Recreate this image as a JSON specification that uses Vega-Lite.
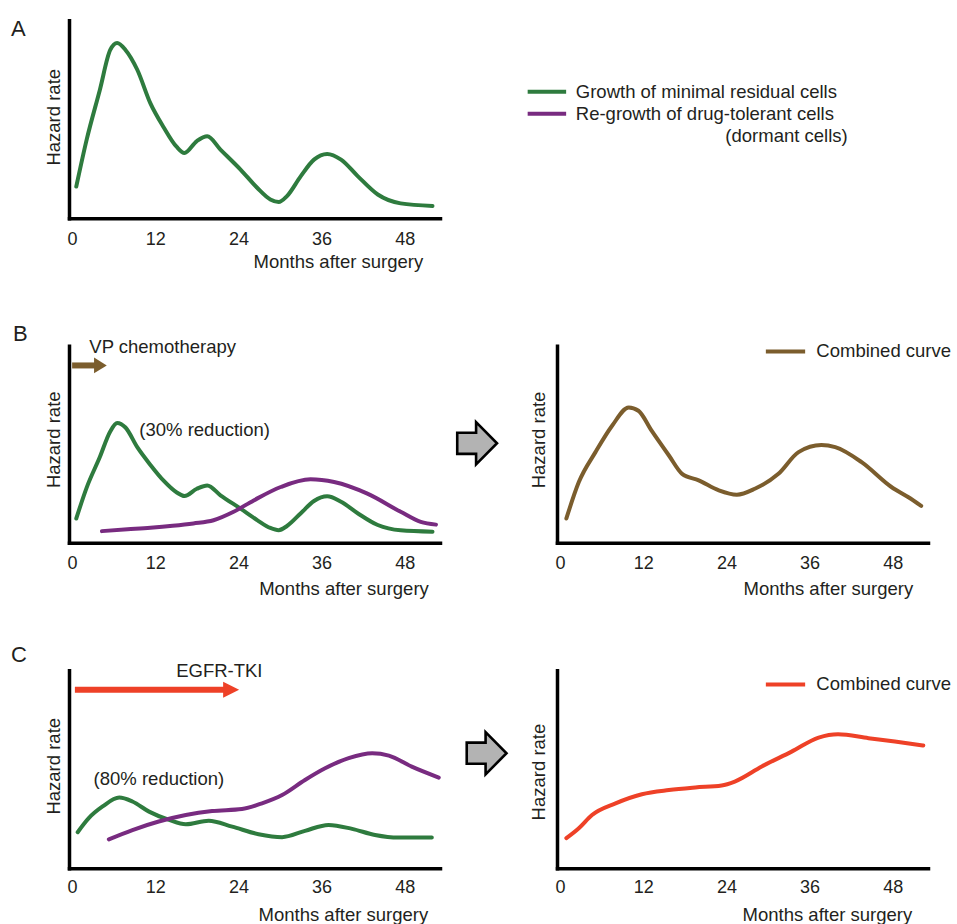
{
  "$schema": "https://vega.github.io/schema/vega-lite/v6.json",
  "background": "white",
  "padding": {"left": 10, "top": 18.25, "right": 2, "bottom": 0},
  "columns": 2,
  "spacing": {"row": 127.5, "column": 117},
  "bounds": "flush",
  "resolve": {"scale": {"color": "independent"}, "legend": {"color": "independent"}},
  "config": {
    "view": {"stroke": null},
    "font": "Liberation Sans",
    "axis": {"domainColor": "#000000", "domainWidth": 3.5, "domainCap": "square", "ticks": false, "grid": false, "labelFont": "Liberation Sans", "labelFontSize": 18, "labelColor": "#231f20", "titleFont": "Liberation Sans", "titleFontSize": 18.5, "titleFontWeight": "normal", "titleColor": "#231f20", "labelFlush": false, "labelOverlap": false},
    "legend": {"labelFont": "Liberation Sans", "labelFontSize": 18.5, "labelColor": "#231f20", "symbolType": "M-2,0L2,0", "symbolStrokeWidth": 4, "padding": 0, "labelLimit": 0},
    "text": {"font": "Liberation Sans", "fontSize": 18.5, "color": "#231f20"}
  },
  "datasets": {
    "curves": [
      {"panel": "A", "series": "Growth of minimal residual cells", "month": 0.6, "hazard": 16},
      {"panel": "A", "series": "Growth of minimal residual cells", "month": 2.1, "hazard": 39.7},
      {"panel": "A", "series": "Growth of minimal residual cells", "month": 4.0, "hazard": 64.8},
      {"panel": "A", "series": "Growth of minimal residual cells", "month": 5.5, "hazard": 85},
      {"panel": "A", "series": "Growth of minimal residual cells", "month": 6.5, "hazard": 88.5},
      {"panel": "A", "series": "Growth of minimal residual cells", "month": 7.7, "hazard": 85},
      {"panel": "A", "series": "Growth of minimal residual cells", "month": 9.4, "hazard": 75},
      {"panel": "A", "series": "Growth of minimal residual cells", "month": 11.3, "hazard": 58},
      {"panel": "A", "series": "Growth of minimal residual cells", "month": 13.2, "hazard": 46},
      {"panel": "A", "series": "Growth of minimal residual cells", "month": 15.1, "hazard": 36},
      {"panel": "A", "series": "Growth of minimal residual cells", "month": 16.2, "hazard": 33},
      {"panel": "A", "series": "Growth of minimal residual cells", "month": 18.0, "hazard": 39},
      {"panel": "A", "series": "Growth of minimal residual cells", "month": 19.5, "hazard": 41.4},
      {"panel": "A", "series": "Growth of minimal residual cells", "month": 21.4, "hazard": 34.7},
      {"panel": "A", "series": "Growth of minimal residual cells", "month": 24.3, "hazard": 24.6},
      {"panel": "A", "series": "Growth of minimal residual cells", "month": 26.7, "hazard": 15.4},
      {"panel": "A", "series": "Growth of minimal residual cells", "month": 28.6, "hazard": 9.5},
      {"panel": "A", "series": "Growth of minimal residual cells", "month": 29.8, "hazard": 8.2},
      {"panel": "A", "series": "Growth of minimal residual cells", "month": 31.0, "hazard": 11.2},
      {"panel": "A", "series": "Growth of minimal residual cells", "month": 33.0, "hazard": 21.3},
      {"panel": "A", "series": "Growth of minimal residual cells", "month": 34.9, "hazard": 29.6},
      {"panel": "A", "series": "Growth of minimal residual cells", "month": 36.8, "hazard": 32.5},
      {"panel": "A", "series": "Growth of minimal residual cells", "month": 38.8, "hazard": 29.6},
      {"panel": "A", "series": "Growth of minimal residual cells", "month": 41.2, "hazard": 21.3},
      {"panel": "A", "series": "Growth of minimal residual cells", "month": 44.1, "hazard": 12},
      {"panel": "A", "series": "Growth of minimal residual cells", "month": 47.4, "hazard": 7.5},
      {"panel": "A", "series": "Growth of minimal residual cells", "month": 52.0, "hazard": 6.2},

      {"panel": "B", "series": "Growth of minimal residual cells", "month": 0.6, "hazard": 12.3},
      {"panel": "B", "series": "Growth of minimal residual cells", "month": 2.1, "hazard": 28},
      {"panel": "B", "series": "Growth of minimal residual cells", "month": 4.0, "hazard": 43.5},
      {"panel": "B", "series": "Growth of minimal residual cells", "month": 5.5, "hazard": 56.5},
      {"panel": "B", "series": "Growth of minimal residual cells", "month": 6.5, "hazard": 60.8},
      {"panel": "B", "series": "Growth of minimal residual cells", "month": 7.7, "hazard": 58.5},
      {"panel": "B", "series": "Growth of minimal residual cells", "month": 9.4, "hazard": 48.5},
      {"panel": "B", "series": "Growth of minimal residual cells", "month": 11.3, "hazard": 39.5},
      {"panel": "B", "series": "Growth of minimal residual cells", "month": 13.2, "hazard": 31.5},
      {"panel": "B", "series": "Growth of minimal residual cells", "month": 15.1, "hazard": 25.5},
      {"panel": "B", "series": "Growth of minimal residual cells", "month": 16.2, "hazard": 23.7},
      {"panel": "B", "series": "Growth of minimal residual cells", "month": 18.0, "hazard": 27.4},
      {"panel": "B", "series": "Growth of minimal residual cells", "month": 19.5, "hazard": 29.1},
      {"panel": "B", "series": "Growth of minimal residual cells", "month": 21.4, "hazard": 24.1},
      {"panel": "B", "series": "Growth of minimal residual cells", "month": 24.3, "hazard": 17.3},
      {"panel": "B", "series": "Growth of minimal residual cells", "month": 26.7, "hazard": 11.5},
      {"panel": "B", "series": "Growth of minimal residual cells", "month": 28.6, "hazard": 7.5},
      {"panel": "B", "series": "Growth of minimal residual cells", "month": 29.8, "hazard": 6.4},
      {"panel": "B", "series": "Growth of minimal residual cells", "month": 31.0, "hazard": 8.5},
      {"panel": "B", "series": "Growth of minimal residual cells", "month": 33.0, "hazard": 15},
      {"panel": "B", "series": "Growth of minimal residual cells", "month": 34.9, "hazard": 21.2},
      {"panel": "B", "series": "Growth of minimal residual cells", "month": 36.8, "hazard": 23.6},
      {"panel": "B", "series": "Growth of minimal residual cells", "month": 38.8, "hazard": 20.8},
      {"panel": "B", "series": "Growth of minimal residual cells", "month": 41.2, "hazard": 15},
      {"panel": "B", "series": "Growth of minimal residual cells", "month": 44.1, "hazard": 9},
      {"panel": "B", "series": "Growth of minimal residual cells", "month": 47.4, "hazard": 6.3},
      {"panel": "B", "series": "Growth of minimal residual cells", "month": 52.0, "hazard": 5.6},
      {"panel": "B", "series": "Re-growth of drug-tolerant cells", "month": 4.3, "hazard": 5.9},
      {"panel": "B", "series": "Re-growth of drug-tolerant cells", "month": 8.0, "hazard": 6.8},
      {"panel": "B", "series": "Re-growth of drug-tolerant cells", "month": 11.3, "hazard": 7.6},
      {"panel": "B", "series": "Re-growth of drug-tolerant cells", "month": 14.5, "hazard": 8.6},
      {"panel": "B", "series": "Re-growth of drug-tolerant cells", "month": 17.5, "hazard": 9.8},
      {"panel": "B", "series": "Re-growth of drug-tolerant cells", "month": 20.4, "hazard": 11.4},
      {"panel": "B", "series": "Re-growth of drug-tolerant cells", "month": 23.3, "hazard": 15.7},
      {"panel": "B", "series": "Re-growth of drug-tolerant cells", "month": 26.2, "hazard": 21.5},
      {"panel": "B", "series": "Re-growth of drug-tolerant cells", "month": 30.1, "hazard": 28.3},
      {"panel": "B", "series": "Re-growth of drug-tolerant cells", "month": 34.4, "hazard": 32.2},
      {"panel": "B", "series": "Re-growth of drug-tolerant cells", "month": 37.8, "hazard": 30.8},
      {"panel": "B", "series": "Re-growth of drug-tolerant cells", "month": 42.6, "hazard": 24.9},
      {"panel": "B", "series": "Re-growth of drug-tolerant cells", "month": 47.4, "hazard": 15.7},
      {"panel": "B", "series": "Re-growth of drug-tolerant cells", "month": 50.3, "hazard": 10.6},
      {"panel": "B", "series": "Re-growth of drug-tolerant cells", "month": 52.5, "hazard": 9.2},

      {"panel": "B combined", "series": "Combined curve", "month": 0.9, "hazard": 12.3},
      {"panel": "B combined", "series": "Combined curve", "month": 2.7, "hazard": 30.8},
      {"panel": "B combined", "series": "Combined curve", "month": 5.1, "hazard": 46},
      {"panel": "B combined", "series": "Combined curve", "month": 7.5, "hazard": 59.4},
      {"panel": "B combined", "series": "Combined curve", "month": 9.9, "hazard": 68.7},
      {"panel": "B combined", "series": "Combined curve", "month": 11.3, "hazard": 67},
      {"panel": "B combined", "series": "Combined curve", "month": 13.2, "hazard": 56.9},
      {"panel": "B combined", "series": "Combined curve", "month": 15.7, "hazard": 44.3},
      {"panel": "B combined", "series": "Combined curve", "month": 17.6, "hazard": 35},
      {"panel": "B combined", "series": "Combined curve", "month": 20.0, "hazard": 31.7},
      {"panel": "B combined", "series": "Combined curve", "month": 22.9, "hazard": 26.6},
      {"panel": "B combined", "series": "Combined curve", "month": 25.5, "hazard": 24.4},
      {"panel": "B combined", "series": "Combined curve", "month": 28.1, "hazard": 27.4},
      {"panel": "B combined", "series": "Combined curve", "month": 31.5, "hazard": 35},
      {"panel": "B combined", "series": "Combined curve", "month": 34.4, "hazard": 46},
      {"panel": "B combined", "series": "Combined curve", "month": 37.7, "hazard": 49.6},
      {"panel": "B combined", "series": "Combined curve", "month": 39.7, "hazard": 48.5},
      {"panel": "B combined", "series": "Combined curve", "month": 43.5, "hazard": 40.9},
      {"panel": "B combined", "series": "Combined curve", "month": 47.8, "hazard": 28.3},
      {"panel": "B combined", "series": "Combined curve", "month": 50.2, "hazard": 23.2},
      {"panel": "B combined", "series": "Combined curve", "month": 52.1, "hazard": 18.7},

      {"panel": "C", "series": "Growth of minimal residual cells", "month": 0.8, "hazard": 18.2},
      {"panel": "C", "series": "Growth of minimal residual cells", "month": 2.4, "hazard": 25.3},
      {"panel": "C", "series": "Growth of minimal residual cells", "month": 4.4, "hazard": 31.2},
      {"panel": "C", "series": "Growth of minimal residual cells", "month": 6.8, "hazard": 35.7},
      {"panel": "C", "series": "Growth of minimal residual cells", "month": 8.7, "hazard": 33.7},
      {"panel": "C", "series": "Growth of minimal residual cells", "month": 11.1, "hazard": 28.6},
      {"panel": "C", "series": "Growth of minimal residual cells", "month": 14.0, "hazard": 24.4},
      {"panel": "C", "series": "Growth of minimal residual cells", "month": 16.4, "hazard": 22.2},
      {"panel": "C", "series": "Growth of minimal residual cells", "month": 19.7, "hazard": 24},
      {"panel": "C", "series": "Growth of minimal residual cells", "month": 23.1, "hazard": 21},
      {"panel": "C", "series": "Growth of minimal residual cells", "month": 26.9, "hazard": 17.2},
      {"panel": "C", "series": "Growth of minimal residual cells", "month": 30.3, "hazard": 15.7},
      {"panel": "C", "series": "Growth of minimal residual cells", "month": 33.6, "hazard": 18.9},
      {"panel": "C", "series": "Growth of minimal residual cells", "month": 37.0, "hazard": 21.9},
      {"panel": "C", "series": "Growth of minimal residual cells", "month": 40.4, "hazard": 19.9},
      {"panel": "C", "series": "Growth of minimal residual cells", "month": 43.7, "hazard": 16.8},
      {"panel": "C", "series": "Growth of minimal residual cells", "month": 47.1, "hazard": 15.5},
      {"panel": "C", "series": "Growth of minimal residual cells", "month": 51.9, "hazard": 15.5},
      {"panel": "C", "series": "Re-growth of drug-tolerant cells", "month": 5.3, "hazard": 14.6},
      {"panel": "C", "series": "Re-growth of drug-tolerant cells", "month": 8.7, "hazard": 19.3},
      {"panel": "C", "series": "Re-growth of drug-tolerant cells", "month": 12.5, "hazard": 23.6},
      {"panel": "C", "series": "Re-growth of drug-tolerant cells", "month": 16.4, "hazard": 26.9},
      {"panel": "C", "series": "Re-growth of drug-tolerant cells", "month": 20.2, "hazard": 28.9},
      {"panel": "C", "series": "Re-growth of drug-tolerant cells", "month": 24.5, "hazard": 29.9},
      {"panel": "C", "series": "Re-growth of drug-tolerant cells", "month": 27.4, "hazard": 32.8},
      {"panel": "C", "series": "Re-growth of drug-tolerant cells", "month": 30.3, "hazard": 37},
      {"panel": "C", "series": "Re-growth of drug-tolerant cells", "month": 33.6, "hazard": 44.6},
      {"panel": "C", "series": "Re-growth of drug-tolerant cells", "month": 36.5, "hazard": 50.5},
      {"panel": "C", "series": "Re-growth of drug-tolerant cells", "month": 39.9, "hazard": 55.6},
      {"panel": "C", "series": "Re-growth of drug-tolerant cells", "month": 43.3, "hazard": 58.1},
      {"panel": "C", "series": "Re-growth of drug-tolerant cells", "month": 45.7, "hazard": 56.9},
      {"panel": "C", "series": "Re-growth of drug-tolerant cells", "month": 49.0, "hazard": 51.3},
      {"panel": "C", "series": "Re-growth of drug-tolerant cells", "month": 52.9, "hazard": 45.8},

      {"panel": "C combined", "series": "Combined curve", "month": 0.9, "hazard": 15.2},
      {"panel": "C combined", "series": "Combined curve", "month": 2.7, "hazard": 20.2},
      {"panel": "C combined", "series": "Combined curve", "month": 4.6, "hazard": 26.9},
      {"panel": "C combined", "series": "Combined curve", "month": 8.0, "hazard": 32.8},
      {"panel": "C combined", "series": "Combined curve", "month": 11.8, "hazard": 37.4},
      {"panel": "C combined", "series": "Combined curve", "month": 15.7, "hazard": 39.5},
      {"panel": "C combined", "series": "Combined curve", "month": 19.5, "hazard": 40.8},
      {"panel": "C combined", "series": "Combined curve", "month": 23.3, "hazard": 41.8},
      {"panel": "C combined", "series": "Combined curve", "month": 25.2, "hazard": 43.8},
      {"panel": "C combined", "series": "Combined curve", "month": 29.1, "hazard": 51.4},
      {"panel": "C combined", "series": "Combined curve", "month": 33.4, "hazard": 58.9},
      {"panel": "C combined", "series": "Combined curve", "month": 37.3, "hazard": 66},
      {"panel": "C combined", "series": "Combined curve", "month": 40.1, "hazard": 67.7},
      {"panel": "C combined", "series": "Combined curve", "month": 44.5, "hazard": 65.7},
      {"panel": "C combined", "series": "Combined curve", "month": 48.3, "hazard": 64},
      {"panel": "C combined", "series": "Combined curve", "month": 52.4, "hazard": 62}
    ],
    "treatments": [
      {"panel": "B", "treatment": "VP chemotherapy", "start": 0, "end": 5.0},
      {"panel": "C", "treatment": "EGFR-TKI", "start": 0.4, "end": 24.1}
    ]
  },
  "concat": [
    {
      "width": 371, "height": 198,
      "layer": [
        {
          "data": {"name": "curves"},
          "transform": [{"filter": "datum.panel === 'A'"}],
          "mark": {"type": "line", "strokeWidth": 4, "interpolate": "monotone", "strokeCap": "round", "strokeJoin": "round"},
          "encoding": {
            "x": {"field": "month", "type": "quantitative", "scale": {"domain": [-0.45, 53.08], "nice": false, "zero": false},
              "axis": {"values": [0, 12, 24, 36, 48], "title": "Months after surgery", "titleAnchor": "end", "titleAlign": "right", "titleX": 353.7, "titleY": 49, "titleBaseline": "alphabetic", "labelPadding": 12}},
            "y": {"field": "hazard", "type": "quantitative", "scale": {"domain": [0, 100], "nice": false, "zero": false},
              "axis": {"title": "Hazard rate", "labels": false, "titleX": -9.5, "titleY": 96.5, "titleBaseline": "alphabetic", "titleAlign": "center", "titleAngle": -90}},
            "color": {"field": "series", "type": "nominal",
              "scale": {"domain": ["Growth of minimal residual cells", "Re-growth of drug-tolerant cells"], "range": ["#2e7b3e", "#782b80"]},
              "legend": {"orient": "none", "legendX": 465.9, "legendY": 59.4, "title": null, "symbolSize": 370, "labelOffset": 16.9, "rowPadding": 0}}
          }
        },
        {
          "data": {"values": [{"label": "A"}]},
          "mark": {"type": "text", "align": "left", "baseline": "alphabetic", "fontSize": 22},
          "encoding": {"text": {"field": "label"}, "x": {"datum": -8.82}, "y": {"datum": 91.9}}
        },
        {
          "data": {"values": [{"label": "(dormant cells)"}]},
          "mark": {"type": "text", "align": "right", "baseline": "alphabetic"},
          "encoding": {"text": {"field": "label"}, "x": {"datum": 111.9}, "y": {"datum": 38.3}}
        }
      ]
    },
    {
      "width": 371, "height": 198,
      "data": {"values": []},
      "mark": "point"
    },
    {
      "width": 371, "height": 197,
      "layer": [
        {
          "data": {"name": "curves"},
          "transform": [{"filter": "datum.panel === 'B'"}],
          "mark": {"type": "line", "strokeWidth": 4, "interpolate": "monotone", "strokeCap": "round", "strokeJoin": "round"},
          "encoding": {
            "x": {"field": "month", "type": "quantitative", "scale": {"domain": [-0.45, 53.08], "nice": false, "zero": false},
              "axis": {"values": [0, 12, 24, 36, 48], "title": "Months after surgery", "titleAnchor": "end", "titleAlign": "right", "titleX": 359.3, "titleY": 51.5, "titleBaseline": "alphabetic", "labelPadding": 12}},
            "y": {"field": "hazard", "type": "quantitative", "scale": {"domain": [0, 100], "nice": false, "zero": false},
              "axis": {"title": "Hazard rate", "labels": false, "titleX": -9.5, "titleY": 93.5, "titleBaseline": "alphabetic", "titleAlign": "center", "titleAngle": -90}},
            "color": {"field": "series", "type": "nominal",
              "scale": {"domain": ["Growth of minimal residual cells", "Re-growth of drug-tolerant cells"], "range": ["#2e7b3e", "#782b80"]},
              "legend": null}
          }
        },
        {
          "data": {"name": "treatments"},
          "transform": [{"filter": "datum.panel === 'B'"}],
          "mark": {"type": "rule", "strokeWidth": 6, "color": "#7b5d2d", "x2Offset": -10},
          "encoding": {"x": {"field": "start", "type": "quantitative"}, "x2": {"field": "end"}, "y": {"datum": 90}}
        },
        {
          "data": {"name": "treatments"},
          "transform": [{"filter": "datum.panel === 'B'"}],
          "mark": {"type": "point", "shape": "M-0.81,-1L0.81,0L-0.81,1Z", "filled": true, "opacity": 1, "color": "#7b5d2d", "size": 246, "xOffset": -6.35, "strokeWidth": 0},
          "encoding": {"x": {"field": "end", "type": "quantitative"}, "y": {"datum": 90}}
        },
        {
          "data": {"name": "treatments"},
          "transform": [{"filter": "datum.panel === 'B'"}],
          "mark": {"type": "text", "align": "left", "baseline": "alphabetic"},
          "encoding": {"text": {"field": "treatment"}, "x": {"datum": 2.48}, "y": {"datum": 96.5}}
        },
        {
          "data": {"values": [{"label": "(30% reduction)"}]},
          "mark": {"type": "text", "align": "left", "baseline": "alphabetic"},
          "encoding": {"text": {"field": "label"}, "x": {"datum": 9.7}, "y": {"datum": 54.2}}
        },
        {
          "data": {"values": [{"label": "B"}]},
          "mark": {"type": "text", "align": "left", "baseline": "alphabetic", "fontSize": 22},
          "encoding": {"text": {"field": "label"}, "x": {"datum": -8.53}, "y": {"datum": 102.5}}
        },
        {
          "data": {"values": [{"step": "combine"}]},
          "mark": {"type": "point", "shape": "M-0.86,-0.46L-0.04,-0.46L-0.04,-0.92L0.87,0L-0.04,0.92L-0.04,0.46L-0.86,0.46Z", "filled": false, "fill": "#b3b3b3", "fillOpacity": 1, "stroke": "#000000", "strokeWidth": 2.6, "strokeJoin": "miter", "opacity": 1, "size": 2116},
          "encoding": {"x": {"datum": 58.42}, "y": {"datum": 50.5}}
        }
      ]
    },
    {
      "width": 371, "height": 197,
      "layer": [
        {
          "data": {"name": "curves"},
          "transform": [{"filter": "datum.panel === 'B combined'"}],
          "mark": {"type": "line", "strokeWidth": 4, "interpolate": "monotone", "strokeCap": "round", "strokeJoin": "round"},
          "encoding": {
            "x": {"field": "month", "type": "quantitative", "scale": {"domain": [-0.45, 53.08], "nice": false, "zero": false},
              "axis": {"values": [0, 12, 24, 36, 48], "title": "Months after surgery", "titleAnchor": "end", "titleAlign": "right", "titleX": 355.7, "titleY": 51.5, "titleBaseline": "alphabetic", "labelPadding": 12}},
            "y": {"field": "hazard", "type": "quantitative", "scale": {"domain": [0, 100], "nice": false, "zero": false},
              "axis": {"title": "Hazard rate", "labels": false, "titleX": -13, "titleY": 93.7, "titleBaseline": "alphabetic", "titleAlign": "center", "titleAngle": -90}},
            "color": {"field": "series", "type": "nominal",
              "scale": {"domain": ["Combined curve"], "range": ["#7b5d2d"]},
              "legend": {"orient": "none", "legendX": 216.5, "legendY": -6.3, "title": null, "symbolSize": 386, "labelOffset": 18.85}}
          }
        }
      ]
    },
    {
      "width": 371, "height": 198,
      "layer": [
        {
          "data": {"name": "curves"},
          "transform": [{"filter": "datum.panel === 'C'"}],
          "mark": {"type": "line", "strokeWidth": 4, "interpolate": "monotone", "strokeCap": "round", "strokeJoin": "round"},
          "encoding": {
            "x": {"field": "month", "type": "quantitative", "scale": {"domain": [-0.45, 53.08], "nice": false, "zero": false},
              "axis": {"values": [0, 12, 24, 36, 48], "title": "Months after surgery", "titleAnchor": "end", "titleAlign": "right", "titleX": 358.7, "titleY": 52, "titleBaseline": "alphabetic", "labelPadding": 10}},
            "y": {"field": "hazard", "type": "quantitative", "scale": {"domain": [0, 100], "nice": false, "zero": false},
              "axis": {"title": "Hazard rate", "labels": false, "titleX": -10, "titleY": 95.5, "titleBaseline": "alphabetic", "titleAlign": "center", "titleAngle": -90}},
            "color": {"field": "series", "type": "nominal",
              "scale": {"domain": ["Growth of minimal residual cells", "Re-growth of drug-tolerant cells"], "range": ["#2e7b3e", "#782b80"]},
              "legend": null}
          }
        },
        {
          "data": {"name": "treatments"},
          "transform": [{"filter": "datum.panel === 'C'"}],
          "mark": {"type": "rule", "strokeWidth": 6, "color": "#ee4127", "x2Offset": -14},
          "encoding": {"x": {"field": "start", "type": "quantitative"}, "x2": {"field": "end"}, "y": {"datum": 90.1}}
        },
        {
          "data": {"name": "treatments"},
          "transform": [{"filter": "datum.panel === 'C'"}],
          "mark": {"type": "point", "shape": "M-1,-1L1,0L-1,1Z", "filled": true, "opacity": 1, "color": "#ee4127", "size": 256, "xOffset": -8, "strokeWidth": 0},
          "encoding": {"x": {"field": "end", "type": "quantitative"}, "y": {"datum": 90.1}}
        },
        {
          "data": {"name": "treatments"},
          "transform": [{"filter": "datum.panel === 'C'"}],
          "mark": {"type": "text", "align": "center", "baseline": "alphabetic"},
          "encoding": {"text": {"field": "treatment"}, "x": {"datum": 21.24}, "y": {"datum": 96.8}}
        },
        {
          "data": {"values": [{"label": "(80% reduction)"}]},
          "mark": {"type": "text", "align": "left", "baseline": "alphabetic"},
          "encoding": {"text": {"field": "label"}, "x": {"datum": 3.1}, "y": {"datum": 42}}
        },
        {
          "data": {"values": [{"label": "C"}]},
          "mark": {"type": "text", "align": "left", "baseline": "alphabetic", "fontSize": 22},
          "encoding": {"text": {"field": "label"}, "x": {"datum": -8.82}, "y": {"datum": 104}}
        },
        {
          "data": {"values": [{"step": "combine"}]},
          "mark": {"type": "point", "shape": "M-0.86,-0.46L-0.04,-0.46L-0.04,-0.92L0.87,0L-0.04,0.92L-0.04,0.46L-0.86,0.46Z", "filled": false, "fill": "#b3b3b3", "fillOpacity": 1, "stroke": "#000000", "strokeWidth": 2.6, "strokeJoin": "miter", "opacity": 1, "size": 2116},
          "encoding": {"x": {"datum": 59.79}, "y": {"datum": 58.1}}
        }
      ]
    },
    {
      "width": 371, "height": 198,
      "layer": [
        {
          "data": {"name": "curves"},
          "transform": [{"filter": "datum.panel === 'C combined'"}],
          "mark": {"type": "line", "strokeWidth": 4, "interpolate": "monotone", "strokeCap": "round", "strokeJoin": "round"},
          "encoding": {
            "x": {"field": "month", "type": "quantitative", "scale": {"domain": [-0.45, 53.08], "nice": false, "zero": false},
              "axis": {"values": [0, 12, 24, 36, 48], "title": "Months after surgery", "titleAnchor": "end", "titleAlign": "right", "titleX": 354.7, "titleY": 52, "titleBaseline": "alphabetic", "labelPadding": 10}},
            "y": {"field": "hazard", "type": "quantitative", "scale": {"domain": [0, 100], "nice": false, "zero": false},
              "axis": {"title": "Hazard rate", "labels": false, "titleX": -13, "titleY": 101.3, "titleBaseline": "alphabetic", "titleAlign": "center", "titleAngle": -90}},
            "color": {"field": "series", "type": "nominal",
              "scale": {"domain": ["Combined curve"], "range": ["#ee4127"]},
              "legend": {"orient": "none", "legendX": 216.5, "legendY": 2.2, "title": null, "symbolSize": 386, "labelOffset": 18.85}}
          }
        }
      ]
    }
  ]
}
